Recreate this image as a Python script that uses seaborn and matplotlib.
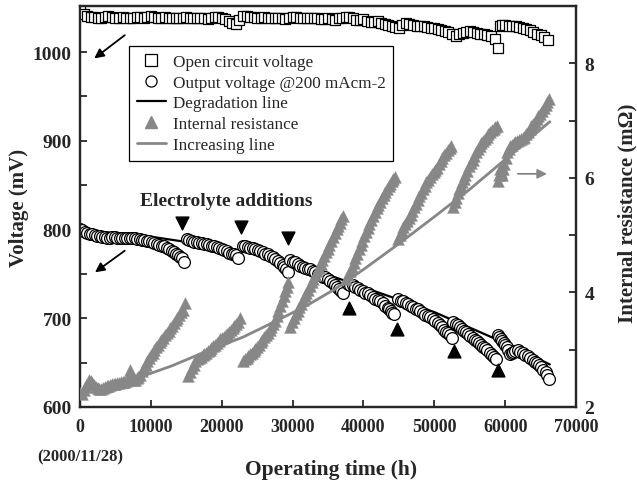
import numpy as np
import pandas as pd
import matplotlib
matplotlib.use("Agg")
import matplotlib.pyplot as plt
from matplotlib.lines import Line2D
import seaborn as sns

# ---------------- data ----------------
# Open circuit voltage (mV)
ocv_t = [0, 500, 1000, 1500, 2000, 2500, 3000, 3500, 4000, 4500, 5000, 5500, 6000, 6500, 7000,
         7500, 8000, 8500, 9000, 9500, 10000, 10500, 11000, 11500, 12000, 12500, 13000, 13500,
         14000, 14500, 15000, 15500, 16000, 16500, 17000, 17500, 18000, 18500, 19000, 19500,
         20000, 20500, 21000, 21500, 22000, 22500, 23000, 23500, 24000, 24500, 25000, 25500,
         26000, 26500, 27000, 27500, 28000, 28500, 29000, 29500, 30000, 30500, 31000, 31500,
         32000, 32500, 33000, 33500, 34000, 34500, 35000, 35500, 36000, 36500, 37000, 37500,
         38000, 38500, 39000, 39500, 40000, 40500, 41000, 41500, 42000, 42500, 43000, 43500,
         44000, 44500, 45000, 45500, 46000, 46500, 47000, 47500, 48000, 48500, 49000, 49500,
         50000, 50500, 51000, 51500, 52000, 52500, 53000, 53500, 54000, 54500, 55000, 55500,
         56000, 56500, 57000, 57500, 58000, 58500, 59000, 59300, 59600, 60000, 60500, 61000,
         61500, 62000, 62500, 63000, 63500, 64000, 64500, 65000, 65500, 66000]
ocv_v = [1046, 1043, 1041, 1040, 1040, 1039, 1039, 1040, 1041, 1040, 1039, 1039, 1040, 1039, 1038,
         1039, 1040, 1040, 1039, 1040, 1041, 1040, 1039, 1039, 1040, 1039, 1039, 1038,
         1038, 1039, 1040, 1039, 1038, 1038, 1039, 1038, 1037, 1038, 1040, 1040,
         1039, 1037, 1035, 1033, 1032, 1036, 1041, 1041, 1040, 1040, 1039, 1039,
         1040, 1039, 1038, 1038, 1039, 1038, 1037, 1038, 1040, 1040, 1039, 1039,
         1038, 1038, 1039, 1038, 1037, 1037, 1038, 1037, 1036, 1038, 1039, 1040,
         1040, 1038, 1036, 1036, 1037, 1035, 1034, 1034, 1035, 1033, 1032, 1031,
         1030, 1028, 1027, 1031, 1033, 1032, 1031, 1030, 1030, 1029, 1028, 1027,
         1027, 1026, 1025, 1024, 1023, 1021, 1018, 1021, 1022, 1023, 1024, 1023,
         1022, 1021, 1020, 1019, 1018, 1015, 1005, 1030, 1031, 1031, 1030, 1030,
         1029, 1028, 1027, 1026, 1025, 1023, 1021, 1019, 1017, 1014]

# Output voltage @200 mAcm-2 (mV), one list pair per run between electrolyte additions
out_seg_t = [
    [0, 350, 700, 1050, 1400, 1750, 2100, 2450, 2800, 3150, 3500, 3850, 4200, 4550, 4900, 5250,
     5600, 5950, 6300, 6650, 7000, 7350, 7700, 8050, 8400, 8750, 9100, 9450, 9800, 10150, 10500,
     10850, 11200, 11550, 11900, 12250, 12600, 12950, 13300, 13600, 13900, 14150, 14400, 14700],
    [15100, 15450, 15800, 16150, 16500, 16850, 17200, 17550, 17900, 18250, 18600, 18950, 19300,
     19650, 20000, 20350, 20700, 21050, 21400, 21700, 22000, 22300],
    [23000, 23350, 23700, 24050, 24400, 24750, 25100, 25450, 25800, 26150, 26500, 26850, 27200,
     27550, 27900, 28250, 28600, 28850, 29100, 29400],
    [29700, 30050, 30400, 30750, 31100, 31450, 31800, 32150, 32500, 32850, 33200, 33550, 33900,
     34250, 34600, 34950, 35300, 35650, 36000, 36300, 36600, 36850, 37100],
    [37800, 38150, 38500, 38850, 39200, 39550, 39900, 40250, 40600, 40950, 41300, 41650, 42000,
     42350, 42700, 43050, 43400, 43650, 43900, 44100, 44300],
    [44900, 45250, 45600, 45950, 46300, 46650, 47000, 47350, 47700, 48050, 48400, 48750, 49100,
     49450, 49800, 50150, 50500, 50800, 51100, 51400, 51700, 51950, 52200, 52500],
    [52700, 53000, 53300, 53600, 53900, 54200, 54500, 54800, 55100, 55400, 55700, 56000, 56300,
     56600, 56900, 57200, 57500, 57800, 58100, 58400, 58700],
    [59000, 59200, 59400, 59600, 59800, 60000, 60200, 60450, 60700, 60900, 61100, 61450, 61800,
     62150, 62500, 62850, 63200, 63550, 63900, 64200, 64500, 64800, 65100, 65400, 65700, 65950,
     66200],
]
out_seg_v = [
    [801, 799, 797, 796, 795, 795, 794, 793, 793, 792, 792, 791, 791, 792, 792, 791,
     791, 790, 790, 791, 791, 790, 790, 789, 789, 788, 788, 787, 787, 786, 785,
     784, 783, 782, 781, 779, 778, 776, 775, 773, 771, 769, 768, 764],
    [789, 788, 787, 786, 786, 785, 785, 784, 784, 783, 782, 781, 780,
     779, 778, 777, 776, 774, 773, 772, 771, 768],
    [781, 781, 780, 779, 779, 778, 777, 776, 775, 773, 772, 770, 769,
     767, 765, 762, 760, 758, 756, 752],
    [766, 764, 763, 761, 759, 758, 757, 756, 755, 753, 752, 750, 749,
     747, 746, 744, 742, 740, 738, 735, 733, 731, 729],
    [739, 738, 737, 735, 734, 732, 731, 729, 728, 726, 724, 722, 721,
     719, 717, 714, 712, 710, 708, 706, 705],
    [722, 720, 719, 717, 716, 714, 713, 711, 710, 708, 706, 704, 703,
     701, 699, 697, 695, 692, 690, 687, 685, 683, 681, 678],
    [696, 694, 692, 690, 688, 686, 684, 682, 680, 678, 676, 674, 672,
     670, 668, 666, 664, 661, 659, 656, 654],
    [681, 679, 677, 674, 672, 670, 668, 664, 660, 661, 662, 663, 664,
     662, 661, 659, 657, 655, 653, 651, 650, 647, 645, 642, 639, 636,
     632],
]

# Degradation line (mV)
deg_t = [0, 10000, 20000, 30000, 40000, 50000, 60000, 66300]
deg_v = [800, 792, 780, 763, 735, 707, 672, 648]

# Internal resistance (mOhm), one list pair per run
ir_seg_t = [
    [0, 250, 500, 750, 1000, 1250, 1500, 1750, 2000, 2250, 2500, 2750, 3000, 3250, 3500, 3750,
     4000, 4250, 4500, 4750, 5000, 5250, 5500, 5750, 6000, 6250, 6500, 6750, 7000, 7250, 7500,
     7750, 8000, 8250, 8500, 8750, 9000, 9250, 9500, 9750, 10000, 10250, 10500, 10750, 11000,
     11250, 11500, 11750, 12000, 12250, 12500, 12750, 13000, 13250, 13500, 13750, 14000, 14250,
     14500, 14800],
    [15300, 15550, 15800, 16050, 16300, 16550, 16800, 17050, 17300, 17550, 17800, 18050, 18300,
     18550, 18800, 19050, 19300, 19550, 19800, 20050, 20300, 20550, 20800, 21050, 21300, 21550,
     21800, 22050, 22300, 22600],
    [23000, 23250, 23500, 23750, 24000, 24250, 24500, 24750, 25000, 25250, 25500, 25750, 26000,
     26250, 26500, 26750, 27000, 27250, 27500, 27750, 28000, 28250, 28500, 28750, 29000, 29200,
     29400],
    [29700, 29950, 30200, 30450, 30700, 30950, 31200, 31450, 31700, 31950, 32200, 32450, 32700,
     32950, 33200, 33450, 33700, 33950, 34200, 34450, 34700, 34950, 35200, 35450, 35700, 35950,
     36200, 36450, 36700, 36900, 37100],
    [37600, 37850, 38100, 38350, 38600, 38850, 39100, 39350, 39600, 39850, 40100, 40350, 40600,
     40850, 41100, 41350, 41600, 41850, 42100, 42350, 42600, 42850, 43100, 43350, 43600, 43800,
     44000, 44200, 44400],
    [44900, 45150, 45400, 45650, 45900, 46150, 46400, 46650, 46900, 47150, 47400, 47650, 47900,
     48150, 48400, 48650, 48900, 49150, 49400, 49650, 49900, 50150, 50400, 50650, 50900, 51150,
     51400, 51650, 51900, 52150, 52400],
    [52700, 52900, 53100, 53300, 53500, 53700, 53900, 54150, 54400, 54650, 54900, 55150, 55400,
     55650, 55900, 56150, 56400, 56650, 56900, 57150, 57400, 57650, 57900, 58150, 58400, 58600,
     58800],
    [59000, 59150, 59300, 59450, 59600, 59750, 59900, 60100, 60300, 60500, 60700, 60950, 61200,
     61450, 61700, 61950, 62200, 62450, 62700, 62950, 63200, 63450, 63700, 63950, 64200, 64450,
     64700, 64950, 65200, 65450, 65700, 65950, 66200],
]
ir_seg_r = [
    [2.25, 2.22, 2.3, 2.35, 2.4, 2.47, 2.45, 2.42, 2.38, 2.35, 2.33, 2.31, 2.32, 2.33, 2.35, 2.36,
     2.37, 2.39, 2.4, 2.41, 2.4, 2.42, 2.42, 2.43, 2.44, 2.44, 2.45, 2.5, 2.65, 2.55, 2.48,
     2.47, 2.5, 2.52, 2.56, 2.62, 2.68, 2.74, 2.8, 2.85, 2.9, 2.95, 3.0, 3.04, 3.08,
     3.13, 3.17, 3.21, 3.25, 3.29, 3.33, 3.38, 3.42, 3.47, 3.52, 3.56, 3.6, 3.65,
     3.7, 3.82],
    [2.54, 2.61, 2.68, 2.74, 2.8, 2.83, 2.86, 2.88, 2.9, 2.93, 2.95, 2.98, 3.0,
     3.03, 3.06, 3.09, 3.12, 3.15, 3.18, 3.2, 3.23, 3.26, 3.28, 3.31, 3.34, 3.38,
     3.42, 3.45, 3.48, 3.55],
    [2.8, 2.83, 2.86, 2.89, 2.92, 2.95, 2.98, 3.01, 3.05, 3.09, 3.13, 3.17, 3.22,
     3.26, 3.3, 3.35, 3.4, 3.45, 3.5, 3.59, 3.68, 3.76, 3.85, 3.93, 4.02, 4.1,
     4.18],
    [3.4, 3.48, 3.55, 3.62, 3.68, 3.74, 3.8, 3.87, 3.93, 3.99, 4.05, 4.12, 4.18,
     4.24, 4.3, 4.37, 4.43, 4.5, 4.56, 4.63, 4.7, 4.76, 4.83, 4.9, 4.96, 5.03,
     5.1, 5.16, 5.22, 5.28, 5.34],
    [4.24, 4.31, 4.38, 4.45, 4.52, 4.6, 4.67, 4.75, 4.83, 4.9, 4.98, 5.05, 5.13,
     5.2, 5.27, 5.33, 5.4, 5.47, 5.53, 5.58, 5.64, 5.7, 5.75, 5.8, 5.85, 5.9,
     5.94, 5.98, 6.02],
    [4.94, 5.01, 5.08, 5.14, 5.2, 5.25, 5.3, 5.36, 5.42, 5.49, 5.55, 5.62, 5.68,
     5.74, 5.8, 5.86, 5.92, 5.97, 6.02, 6.06, 6.1, 6.14, 6.18, 6.24, 6.3, 6.35,
     6.4, 6.44, 6.48, 6.52, 6.56],
    [5.5, 5.58, 5.65, 5.73, 5.8, 5.86, 5.92, 5.98, 6.05, 6.12, 6.2, 6.26, 6.32,
     6.39, 6.45, 6.5, 6.56, 6.6, 6.64, 6.68, 6.72, 6.76, 6.8, 6.83, 6.85, 6.88,
     6.9],
    [5.95, 6.05, 6.15, 6.1, 6.05, 6.15, 6.25, 6.35, 6.45, 6.5, 6.56, 6.58, 6.6,
     6.62, 6.64, 6.66, 6.67, 6.7, 6.72, 6.76, 6.8, 6.85, 6.9, 6.94, 6.98, 7.03,
     7.08, 7.12, 7.17, 7.22, 7.27, 7.32, 7.37],
]

# Increasing line (mOhm)
inc_t = [8000, 13000, 18000, 23000, 27500, 32000, 36000, 40000, 45000, 50000, 55000, 60000, 66300]
inc_r = [2.5, 2.72, 2.98, 3.22, 3.49, 3.77, 4.06, 4.4, 4.85, 5.32, 5.8, 6.32, 6.98]

# Electrolyte additions markers (mV)
add_down_t = [14400, 22700, 29400]
add_down_v = [807, 803, 790]
add_up_t = [37900, 44700, 52800, 59000]
add_up_v = [712, 688, 663, 642]

x_ticks = [0, 10000, 20000, 30000, 40000, 50000, 60000, 70000]
yv_ticks = [600, 700, 800, 900, 1000]
yr_ticks = [2, 4, 6, 8]

legend_labels = ['Open circuit voltage', 'Output voltage @200 mAcm-2', 'Degradation line',
                 'Internal resistance', 'Increasing line']

# ---------------- style ----------------
sns.set_style("ticks")
plt.rcParams['font.family'] = ['Liberation Serif', 'DejaVu Serif']

fig = plt.figure(figsize=(6.37, 4.85), dpi=100)
ax = fig.add_axes([80 / 637, 1 - 408 / 485, 496 / 637, 401 / 485])
ax2 = ax.twinx()

GRAY = '#878787'

ocv = pd.DataFrame({'t': ocv_t, 'v': ocv_v})
out = pd.DataFrame({'t': sum(out_seg_t, []), 'v': sum(out_seg_v, [])})
deg = pd.DataFrame({'t': deg_t, 'v': deg_v})
ir = pd.DataFrame({'t': sum(ir_seg_t, []), 'r': sum(ir_seg_r, [])})
inc = pd.DataFrame({'t': inc_t, 'r': inc_r})

sns.scatterplot(data=ocv, x='t', y='v', ax=ax, marker='s', s=55, facecolor='white',
                edgecolor='black', linewidth=0.9, zorder=3)
sns.lineplot(data=deg, x='t', y='v', ax=ax, color='black', lw=1.6, sort=False,
             estimator=None, zorder=2)
sns.scatterplot(data=out, x='t', y='v', ax=ax, marker='o', s=72, facecolor='white',
                edgecolor='black', linewidth=0.9, zorder=3)
ax.scatter(add_down_t, add_down_v, marker='v', s=85, color='black', zorder=4)
ax.scatter(add_up_t, add_up_v, marker='^', s=85, color='black', zorder=4)

sns.lineplot(data=inc, x='t', y='r', ax=ax2, color=GRAY, lw=2.0, sort=False,
             estimator=None, zorder=2)
sns.scatterplot(data=ir, x='t', y='r', ax=ax2, marker='^', s=72, color=GRAY,
                edgecolor=GRAY, linewidth=0.3, zorder=3)

# axes limits / ticks
ax.set_xlim(0, 70000)
ax.set_ylim(600, 1052)
ax2.set_ylim(2, 9)
ax.set_xticks(x_ticks)
ax.set_xticklabels([str(v) for v in x_ticks])
ax.set_yticks(yv_ticks)
ax.set_yticks([650, 750, 850, 950], minor=True)
ax2.set_yticks(yr_ticks)
ax2.set_yticks([3, 5, 7], minor=True)

for a in (ax, ax2):
    a.tick_params(which='both', direction='in', length=5, width=1.3)
    for sp in a.spines.values():
        sp.set_linewidth(1.6)
        sp.set_visible(True)
ax.tick_params(axis='y', which='both', right=False)
ax.tick_params(axis='x', which='both', top=False, labelsize=13, pad=8)
ax.tick_params(axis='y', labelsize=14, pad=6)
ax2.tick_params(axis='y', labelsize=14, pad=6)
for lbl in ax.get_xticklabels() + ax.get_yticklabels() + ax2.get_yticklabels():
    lbl.set_fontweight('bold')

ax.set_xlabel('Operating time (h)', fontsize=15.5, fontweight='bold')
ax.set_ylabel('Voltage (mV)', fontsize=15, fontweight='bold')
ax2.set_ylabel('Internal resistance (m\u03A9)', fontsize=15, fontweight='bold', rotation=90)
for lab in (ax.xaxis.label, ax.yaxis.label, ax2.yaxis.label):
    lab.set_rotation_mode('default')
    lab.set_horizontalalignment('center')
    lab.set_verticalalignment('center')
ax.xaxis.set_label_coords((331 - 80) / 496, -(470 - 408) / 401)
ax.yaxis.set_label_coords(-(80 - 19) / 496, 0.5)
ax2.yaxis.set_label_coords((627 - 80) / 496, 0.486)

fig.text(80 / 637, 1 - 457 / 485, '(2000/11/28)', fontsize=12, fontweight='bold',
         ha='center', va='center')

ax.text(20600, 833, 'Electrolyte additions', fontsize=14, fontweight='bold',
        ha='center', va='center')

# arrows
ax.annotate('', xy=(1700, 991), xytext=(6630, 1021),
            arrowprops=dict(arrowstyle='-|>', color='black', lw=1.3, mutation_scale=14))
ax.annotate('', xy=(1800, 750), xytext=(6630, 778),
            arrowprops=dict(arrowstyle='-|>', color='black', lw=1.3, mutation_scale=14))
ax2.annotate('', xy=(66300, 6.07), xytext=(61400, 6.07),
             arrowprops=dict(arrowstyle='-|>', color=GRAY, lw=1.3, mutation_scale=14))

# legend
handles = [
    Line2D([], [], ls='none', marker='s', ms=8, mfc='white', mec='black', mew=0.9),
    Line2D([], [], ls='none', marker='o', ms=8, mfc='white', mec='black', mew=0.9),
    Line2D([], [], color='black', lw=1.6),
    Line2D([], [], ls='none', marker='^', ms=8, color=GRAY),
    Line2D([], [], color=GRAY, lw=2.0),
]
leg = ax2.legend(handles, legend_labels, loc='upper left', bbox_to_anchor=(0.099, 0.900),
                 fontsize=12.3, frameon=True, fancybox=False, framealpha=1,
                 edgecolor='black', handlelength=1.7, handletextpad=0.4,
                 labelspacing=0.28, borderpad=0.45, borderaxespad=0)
leg.get_frame().set_linewidth(0.9)

fig.savefig('out.png', dpi=100)
